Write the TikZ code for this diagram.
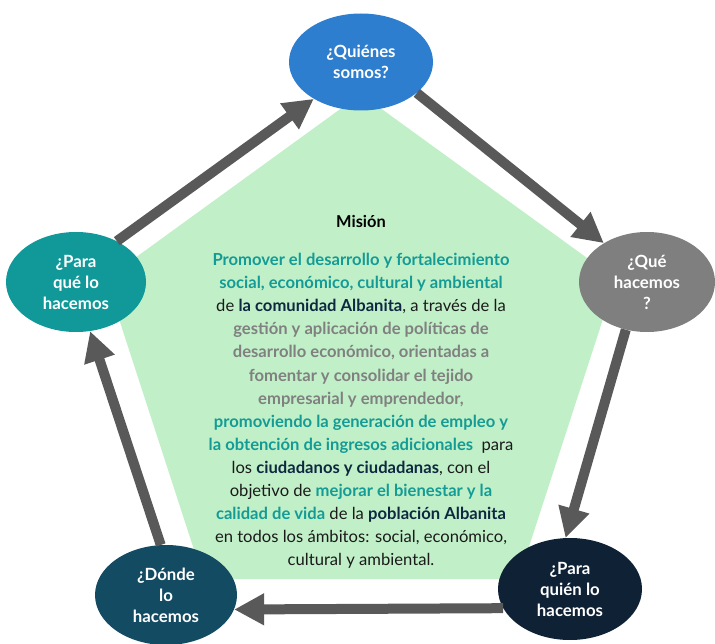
\documentclass[tikz,border=0pt]{standalone}
\usepackage{fontspec}
\setmainfont{Lato}
\usetikzlibrary{arrows.meta,shapes.geometric}

\definecolor{pentafill}{HTML}{C1F0C8}
\definecolor{cblue}{HTML}{2E7ED0}
\definecolor{cgray}{HTML}{7F7F7F}
\definecolor{cteal}{HTML}{11999A}
\definecolor{cnavy}{HTML}{0E2135}
\definecolor{cpetrol}{HTML}{134B62}
\definecolor{arrowgray}{HTML}{595959}
\definecolor{tealtx}{HTML}{149B96}
\definecolor{graytx}{HTML}{808080}
\definecolor{darktx}{HTML}{0E2841}
\definecolor{bodytx}{HTML}{1A1A1A}

\tikzset{
  question/.style={ellipse, inner sep=0pt, text=white, align=center,
    font=\bfseries\fontsize{16.8}{21}\selectfont},
  flow/.style={draw=arrowgray, line width=10pt,
    -{Triangle[length=30pt,width=30pt]}},
}

\begin{document}
\begin{tikzpicture}[x=1pt,y=-1pt]
\useasboundingbox (0,0) rectangle (715,644);

% central pentagon
\fill[pentafill] (361,94) -- (616,279) -- (518.5,579) -- (203.5,579) -- (106,279) -- cycle;

% mission statement
\node[font=\bfseries\fontsize{16.4}{19}\selectfont, text=black] (title) at (361,221) {Misión};
\node[align=center, text=bodytx, font=\fontsize{16.6}{23.1}\selectfont] (body) at (361,411) {%
{\bfseries\color{tealtx}Promover el desarrollo y fortalecimiento}\\
{\bfseries\color{tealtx}social, económico, cultural y ambiental}\\
de {\bfseries\color{darktx}la comunidad Albanita}, a través de la\\
{\bfseries\color{graytx}gestión y aplicación de políticas de}\\
{\bfseries\color{graytx}desarrollo económico, orientadas a}\\
{\bfseries\color{graytx}fomentar y consolidar el tejido}\\
{\bfseries\color{graytx}empresarial y emprendedor,}\\
{\bfseries\color{tealtx}promoviendo la generación de empleo y}\\
{\bfseries\color{tealtx}la obtención de ingresos adicionales}\ \ para\\
los {\bfseries\color{darktx}ciudadanos y ciudadanas}, con el\\
objetivo de {\bfseries\color{tealtx}mejorar el bienestar y la}\\
{\bfseries\color{tealtx}calidad de vida} de la {\bfseries\color{darktx}población Albanita}\\
en todos los ámbitos: social, económico,\\
cultural y ambiental.};

% the five questions
\node[question, fill=cblue, minimum width=144pt, minimum height=97pt] (who) at (361,62) {¿Quiénes\\somos?};
\node[question, fill=cgray, minimum width=136pt, minimum height=100pt] (what) at (647,282) {¿Qué\\hacemos\\?};
\node[question, fill=cnavy, minimum width=144pt, minimum height=102pt] (forwhom) at (570,589) {¿Para\\quién lo\\hacemos};
\node[question, fill=cpetrol, minimum width=142pt, minimum height=100pt] (where) at (166,595) {¿Dónde\\lo\\hacemos};
\node[question, fill=cteal, minimum width=140pt, minimum height=100pt] (why) at (76,282) {¿Para\\qué lo\\hacemos};

% cycle of arrows
\draw[flow] (why.45) -- (who.218);
\draw[flow] (who.-29) -- (what.138);
\draw[flow] (what.246) -- (forwhom.95);
\draw[flow] (forwhom.196) -- (where.-12);
\draw[flow] (where.96) -- (why.-74);
\end{tikzpicture}
\end{document}
